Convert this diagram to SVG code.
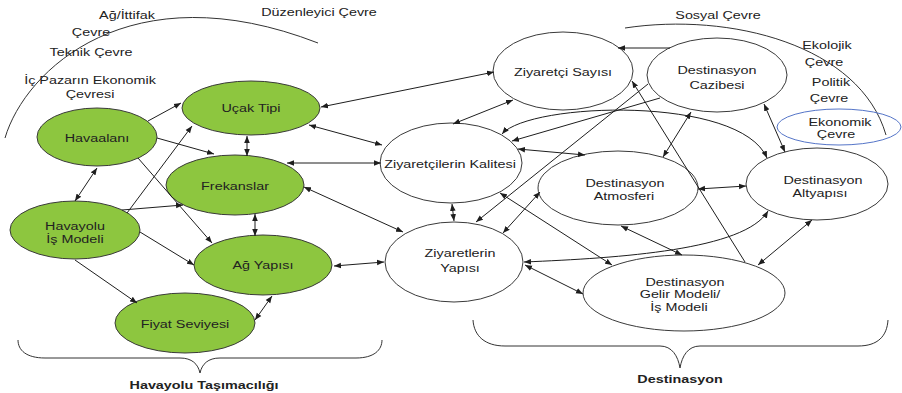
<svg xmlns="http://www.w3.org/2000/svg" width="902" height="393" viewBox="0 0 902 393">
<style>
.t{font-family:"Liberation Sans",Arial,sans-serif;font-size:11.5px;fill:#222;text-anchor:middle}
.b{font-weight:bold}
.g{fill:#8dc63f;stroke:#3a3a3a;stroke-width:1}
.w{fill:#fff;stroke:#3a3a3a;stroke-width:1}
.c path{fill:none;stroke:#1e1e1e;stroke-width:1}
.c .e{marker-end:url(#ah)}
.c .bi{marker-start:url(#ah);marker-end:url(#ah)}
.d{fill:none;stroke:#333;stroke-width:1}
</style>
<defs>
<marker id="ah" viewBox="0 0 10 10" refX="10" refY="5" markerWidth="7" markerHeight="7" markerUnits="userSpaceOnUse" orient="auto-start-reverse"><path d="M0,1 L10,5 L0,9 z" fill="#1e1e1e"/></marker>
</defs>
<rect width="902" height="393" fill="#fff"/>

<g id="decor">
<path class="d" d="M5,138 C25,70 130,-30 318,43"/>
<path class="d" d="M625,28 C730,12 860,45 886,135"/>
<path class="d" d="M18,340 C18,350 26,358 45,358 L180,358 C192,358 198,364 200,373 C202,364 208,358 220,358 L356,358 C374,358 382,350 382,340"/>
<path class="d" d="M473,320 C474,336 485,346 505,346 L660,346 C672,346 678,356 680,368 C682,356 688,346 700,346 L858,346 C878,346 887,336 888,320"/>
<ellipse cx="839" cy="127" rx="62" ry="18" fill="none" stroke="#5575c8" stroke-width="1"/>
<text class="t" transform="translate(127,19) scale(1.25,1)">Ağ/İttifak</text>
<text class="t" transform="translate(91,36) scale(1.25,1)">Çevre</text>
<text class="t" transform="translate(91,56) scale(1.25,1)">Teknik Çevre</text>
<text class="t" transform="translate(90,84) scale(1.25,1)">İç Pazarın Ekonomik</text>
<text class="t" transform="translate(90,98) scale(1.25,1)">Çevresi</text>
<text class="t" transform="translate(319,16) scale(1.25,1)">Düzenleyici Çevre</text>
<text class="t" transform="translate(718,19) scale(1.25,1)">Sosyal Çevre</text>
<text class="t" transform="translate(827,49) scale(1.25,1)">Ekolojik</text>
<text class="t" transform="translate(824,66) scale(1.25,1)">Çevre</text>
<text class="t" transform="translate(831,86) scale(1.25,1)">Politik</text>
<text class="t" transform="translate(829,102) scale(1.25,1)">Çevre</text>
<text class="t" transform="translate(840,126) scale(1.25,1)">Ekonomik</text>
<text class="t" transform="translate(836,138) scale(1.25,1)">Çevre</text>
<text class="t b" transform="translate(204,389) scale(1.25,1)">Havayolu Taşımacılığı</text>
<text class="t b" transform="translate(680,383) scale(1.25,1)">Destinasyon</text>
</g>

<g id="havaalani"><ellipse class="g" cx="97" cy="137" rx="60" ry="29"/><text class="t" transform="translate(97,142) scale(1.25,1)">Havaalanı</text></g>
<g id="ucak-tipi"><ellipse class="g" cx="251" cy="108" rx="69" ry="27"/><text class="t" transform="translate(251,112) scale(1.25,1)">Uçak Tipi</text></g>
<g id="frekanslar"><ellipse class="g" cx="235" cy="185" rx="69" ry="30"/><text class="t" transform="translate(235,190) scale(1.25,1)">Frekanslar</text></g>
<g id="havayolu-is-modeli"><ellipse class="g" cx="75" cy="230" rx="65" ry="29"/><text class="t" transform="translate(75,230) scale(1.25,1)">Havayolu</text><text class="t" transform="translate(75,243) scale(1.25,1)">İş Modeli</text></g>
<g id="ag-yapisi"><ellipse class="g" cx="263" cy="265" rx="69" ry="30"/><text class="t" transform="translate(263,269) scale(1.25,1)">Ağ Yapısı</text></g>
<g id="fiyat-seviyesi"><ellipse class="g" cx="185" cy="323" rx="70" ry="30"/><text class="t" transform="translate(185,328) scale(1.25,1)">Fiyat Seviyesi</text></g>

<g id="ziyaretci-sayisi"><ellipse class="w" cx="563" cy="71" rx="70" ry="39"/><text class="t" transform="translate(563,76) scale(1.25,1)">Ziyaretçi Sayısı</text></g>
<g id="destinasyon-cazibesi"><ellipse class="w" cx="717" cy="75" rx="70" ry="37"/><text class="t" transform="translate(717,74) scale(1.25,1)">Destinasyon</text><text class="t" transform="translate(717,89) scale(1.25,1)">Cazibesi</text></g>
<g id="ziyaretcilerin-kalitesi"><ellipse class="w" cx="451" cy="163" rx="71" ry="40"/><text class="t" transform="translate(450,168) scale(1.25,1)">Ziyaretçilerin Kalitesi</text></g>
<g id="destinasyon-atmosferi"><ellipse class="w" cx="618" cy="188" rx="80" ry="37"/><text class="t" transform="translate(625,187) scale(1.25,1)">Destinasyon</text><text class="t" transform="translate(624,200) scale(1.25,1)">Atmosferi</text></g>
<g id="destinasyon-altyapisi"><ellipse class="w" cx="817" cy="184" rx="71" ry="36"/><text class="t" transform="translate(823,184) scale(1.25,1)">Destinasyon</text><text class="t" transform="translate(820,197) scale(1.25,1)">Altyapısı</text></g>
<g id="ziyaretlerin-yapisi"><ellipse class="w" cx="454" cy="262" rx="69" ry="40"/><text class="t" transform="translate(460,257) scale(1.25,1)">Ziyaretlerin</text><text class="t" transform="translate(460,272) scale(1.25,1)">Yapısı</text></g>
<g id="destinasyon-gelir-modeli"><ellipse class="w" cx="684" cy="293" rx="101" ry="38"/><text class="t" transform="translate(685,286) scale(1.25,1)">Destinasyon</text><text class="t" transform="translate(680,298) scale(1.25,1)">Gelir Modeli/</text><text class="t" transform="translate(679,311) scale(1.25,1)">İş Modeli</text></g>

<g id="connectors" class="c">
<path class="e" d="M148,121 L181,103"/>
<path class="e" d="M157,138 L214,154"/>
<path class="e" d="M138,158 L212,243"/>
<path class="bi" d="M97,168 L75,201"/>
<path class="e" d="M127,213 L192,126"/>
<path class="e" d="M122,210 L183,205"/>
<path class="e" d="M140,232 L194,265"/>
<path class="e" d="M75,260 L137,303"/>
<path class="bi" d="M247,136 L247,156"/>
<path class="bi" d="M255,214 L255,236"/>
<path class="bi" d="M272,296 L255,320"/>
<path class="bi" d="M321,107 L494,72"/>
<path class="bi" d="M309,125 L382,145"/>
<path class="bi" d="M287,163 L381,163"/>
<path class="bi" d="M304,187 L403,232"/>
<path class="bi" d="M334,266 L384,262"/>
<path class="bi" d="M452,204 L454,221"/>
<path class="bi" d="M513,100 L453,124"/>
<path class="e" d="M670,48 L618,48"/>
<path class="e" d="M660,98 L512,141"/>
<path class="bi" d="M502,134 C530,102 740,95 767,158"/>
<path class="e" d="M648,84 L476,222"/>
<path class="e" d="M745,262 L632,81"/>
<path class="bi" d="M663,157 L691,112"/>
<path class="bi" d="M764,104 L785,152"/>
<path class="bi" d="M698,189 L746,186"/>
<path class="bi" d="M518,149 L585,155"/>
<path class="bi" d="M503,233 L540,192"/>
<path class="bi" d="M500,193 L612,265"/>
<path class="bi" d="M524,262 C620,258 745,250 768,211"/>
<path class="bi" d="M621,226 L682,255"/>
<path class="bi" d="M525,265 L583,294"/>
<path class="bi" d="M812,220 L758,265"/>
</g>
</svg>
